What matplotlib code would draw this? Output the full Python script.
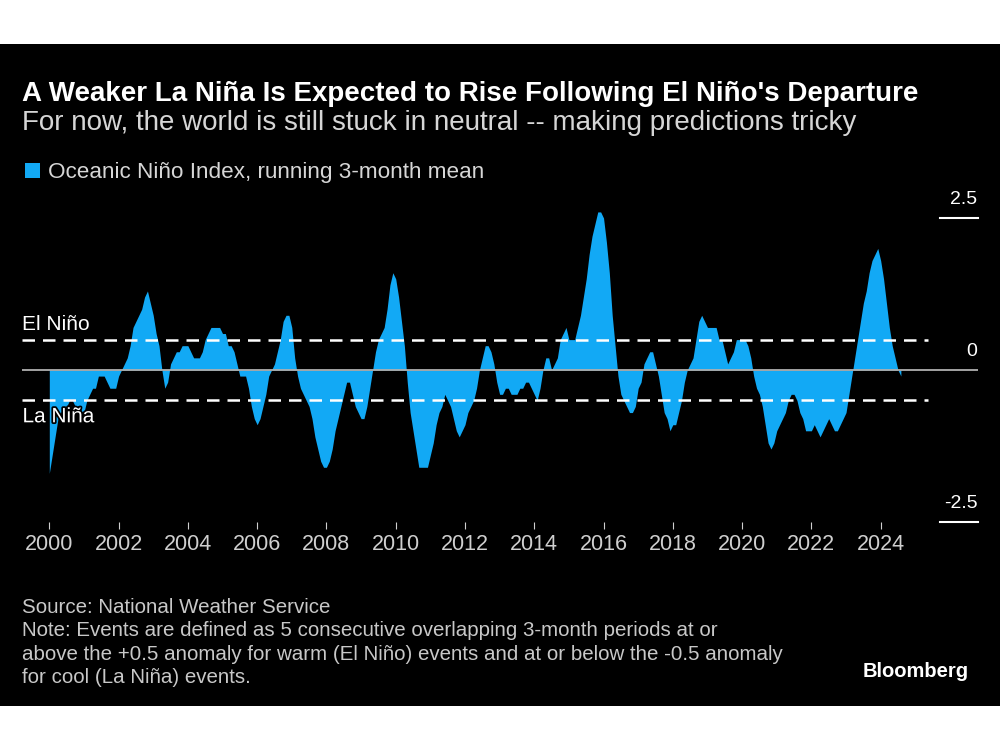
import matplotlib
matplotlib.use("Agg")
import matplotlib.pyplot as plt
import matplotlib.patheffects as pe
from matplotlib.patches import Rectangle
import matplotlib.transforms as mtransforms

# Oceanic Nino Index, running 3-month mean (DJF, JFM, ... NDJ), 2000 - 2024
start_year = 2000
oni = [
    -1.7, -1.4, -1.1, -0.8, -0.7, -0.6, -0.6, -0.5, -0.5, -0.6, -0.7, -0.7,  # 2000
    -0.7, -0.5, -0.4, -0.3, -0.3, -0.1, -0.1, -0.1, -0.2, -0.3, -0.3, -0.3,  # 2001
    -0.1, 0.0, 0.1, 0.2, 0.4, 0.7, 0.8, 0.9, 1.0, 1.2, 1.3, 1.1,  # 2002
    0.9, 0.6, 0.4, 0.0, -0.3, -0.2, 0.1, 0.2, 0.3, 0.3, 0.4, 0.4,  # 2003
    0.4, 0.3, 0.2, 0.2, 0.2, 0.3, 0.5, 0.6, 0.7, 0.7, 0.7, 0.7,  # 2004
    0.6, 0.6, 0.4, 0.4, 0.3, 0.1, -0.1, -0.1, -0.1, -0.3, -0.6, -0.8,  # 2005
    -0.9, -0.8, -0.6, -0.4, -0.1, 0.0, 0.1, 0.3, 0.5, 0.8, 0.9, 0.9,  # 2006
    0.7, 0.2, -0.1, -0.3, -0.4, -0.5, -0.6, -0.8, -1.1, -1.3, -1.5, -1.6,  # 2007
    -1.6, -1.5, -1.3, -1.0, -0.8, -0.6, -0.4, -0.2, -0.2, -0.4, -0.6, -0.7,  # 2008
    -0.8, -0.8, -0.6, -0.3, 0.0, 0.3, 0.5, 0.6, 0.7, 1.0, 1.4, 1.6,  # 2009
    1.5, 1.2, 0.8, 0.4, -0.2, -0.7, -1.0, -1.3, -1.6, -1.6, -1.6, -1.6,  # 2010
    -1.4, -1.2, -0.9, -0.7, -0.6, -0.4, -0.5, -0.6, -0.8, -1.0, -1.1, -1.0,  # 2011
    -0.9, -0.7, -0.6, -0.5, -0.3, 0.0, 0.2, 0.4, 0.4, 0.3, 0.1, -0.2,  # 2012
    -0.4, -0.4, -0.3, -0.3, -0.4, -0.4, -0.4, -0.3, -0.3, -0.2, -0.2, -0.3,  # 2013
    -0.4, -0.5, -0.3, 0.0, 0.2, 0.2, 0.0, 0.1, 0.2, 0.5, 0.6, 0.7,  # 2014
    0.5, 0.5, 0.5, 0.7, 0.9, 1.2, 1.5, 1.9, 2.2, 2.4, 2.6, 2.6,  # 2015
    2.5, 2.1, 1.6, 0.9, 0.4, -0.1, -0.4, -0.5, -0.6, -0.7, -0.7, -0.6,  # 2016
    -0.3, -0.2, 0.1, 0.2, 0.3, 0.3, 0.1, -0.1, -0.4, -0.7, -0.8, -1.0,  # 2017
    -0.9, -0.9, -0.7, -0.5, -0.2, 0.0, 0.1, 0.2, 0.5, 0.8, 0.9, 0.8,  # 2018
    0.7, 0.7, 0.7, 0.7, 0.5, 0.5, 0.3, 0.1, 0.2, 0.3, 0.5, 0.5,  # 2019
    0.5, 0.5, 0.4, 0.2, -0.1, -0.3, -0.4, -0.6, -0.9, -1.2, -1.3, -1.2,  # 2020
    -1.0, -0.9, -0.8, -0.7, -0.5, -0.4, -0.4, -0.5, -0.7, -0.8, -1.0, -1.0,  # 2021
    -1.0, -0.9, -1.0, -1.1, -1.0, -0.9, -0.8, -0.9, -1.0, -1.0, -0.9, -0.8,  # 2022
    -0.7, -0.4, -0.1, 0.2, 0.5, 0.8, 1.1, 1.3, 1.6, 1.8, 1.9, 2.0,  # 2023
    1.8, 1.5, 1.1, 0.7, 0.4, 0.2, 0.0, -0.1,  # 2024
]
tick_years = list(range(2000, 2025, 2))
y_labels = [2.5, 0, -2.5]
y_label_text = ["2.5", "0", "-2.5"]
thresholds = [0.5, -0.5]
threshold_names = ["El Niño", "La Niña"]

title = "A Weaker La Niña Is Expected to Rise Following El Niño's Departure"
subtitle = "For now, the world is still stuck in neutral -- making predictions tricky"
legend_label = "Oceanic Niño Index, running 3-month mean"
footer_lines = [
    "Source: National Weather Service",
    "Note: Events are defined as 5 consecutive overlapping 3-month periods at or",
    "above the +0.5 anomaly for warm (El Niño) events and at or below the -0.5 anomaly",
    "for cool (La Niña) events.",
]

blue = "#12A9F5"
grey = "#cfcfcf"

plt.rcParams["font.family"] = ["Liberation Sans", "DejaVu Sans"]

W, H = 1000, 750
fig = plt.figure(figsize=(10, 7.5), dpi=100, facecolor="white")
# black card behind everything
fig.patches.append(Rectangle((0, 1 - 706 / H), 1, (706 - 44) / H, transform=fig.transFigure,
                             facecolor="black", edgecolor="none", zorder=-10))

# axes in pixel coords: left 22, right 978, y=2.5 at 218, y=-2.5 at 522
ax = fig.add_axes([22 / W, 1 - 522 / H, 956 / W, (522 - 218) / H])
ax.set_facecolor("none")
px_per_year = 34.64
x0 = 2000 - (49.3 - 22) / px_per_year
ax.set_xlim(x0, x0 + 956 / px_per_year)
ax.set_ylim(-2.5, 2.5)

x = [start_year + i / 12 for i in range(len(oni))]
ax.fill_between(x, oni, 0, color=blue, lw=0, zorder=2, clip_on=False)

# zero line and scale lines
ax.axhline(0, color="#b0b0b0", lw=1.3, zorder=3)
ax.axhline(2.5, xmin=(940 - 22) / 956, xmax=1, color="white", lw=1.5, clip_on=False, zorder=3)
ax.axhline(-2.5, xmin=(940 - 22) / 956, xmax=1, color="white", lw=1.5, clip_on=False, zorder=3)
for t in thresholds:
    ax.axhline(t, xmin=0, xmax=(928 - 22) / 956, color="white", lw=1.8,
               dashes=(5, 3.2), zorder=4)

trans = mtransforms.blended_transform_factory(ax.transAxes, ax.transData)
for v, s in zip(y_labels, y_label_text):
    ax.text(0.9995, v + 0.23, s, transform=trans, ha="right", va="baseline",
            color="white", fontsize=14)

ax.text(0.0005, 0.65, threshold_names[0], transform=trans,
        ha="left", va="baseline", color="white", fontsize=15, zorder=5)
t2 = ax.text(0.0005, -0.86, threshold_names[1], transform=trans,
             ha="left", va="baseline", color="white", fontsize=15, zorder=5)
t2.set_path_effects([pe.withStroke(linewidth=2.5, foreground="black")])

ax.set_xticks(tick_years)
ax.set_xticklabels([str(y) for y in tick_years])
ax.tick_params(axis="x", direction="out", length=5, width=0.8, color=grey,
               labelcolor=grey, labelsize=15.5, pad=4)
ax.set_yticks([])
for s in ax.spines.values():
    s.set_visible(False)

# titles
fig.text(22 / W, 1 - 101 / H, title, color="white", fontsize=20, fontweight="bold",
         va="baseline", ha="left")
fig.text(22 / W, 1 - 130 / H, subtitle, color="#d6d6d6", fontsize=20,
         va="baseline", ha="left")
fig.patches.append(Rectangle((25 / W, 1 - 178 / H), 15 / W, 15 / H, transform=fig.transFigure,
                             facecolor=blue, edgecolor="none", zorder=2))
fig.text(48 / W, 1 - 178 / H, legend_label, color="#d6d6d6", fontsize=16.2,
         va="baseline", ha="left")

footer_baselines = [612.7, 636.3, 659.7, 683.0]
for line, b in zip(footer_lines, footer_baselines):
    fig.text(22 / W, 1 - b / H, line, color="#c8c8c8", fontsize=14.8,
             va="baseline", ha="left")
fig.text(969 / W, 1 - 677 / H, "Bloomberg", color="white", fontsize=14.5,
         fontweight="bold", va="baseline", ha="right")

fig.savefig("out.png", dpi=100, facecolor="white")
